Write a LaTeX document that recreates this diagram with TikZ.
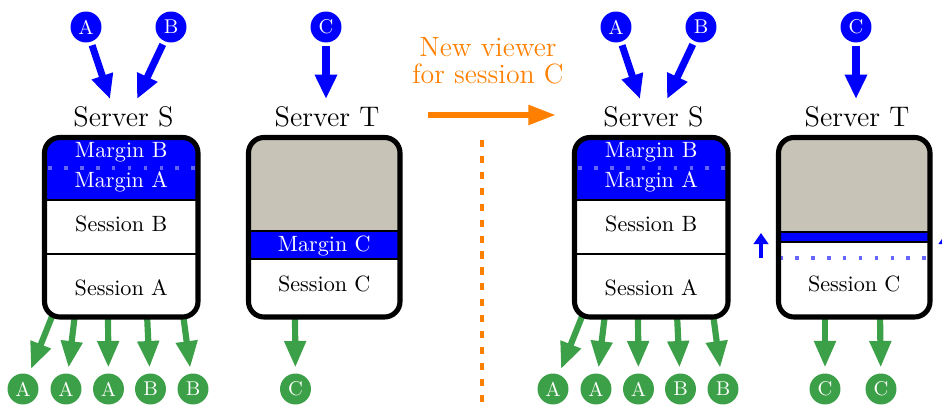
\documentclass[tikz,border=0pt]{standalone}
\usetikzlibrary{arrows.meta,calc}
\definecolor{panelgray}{RGB}{199,195,183}
\definecolor{viewgreen}{RGB}{60,160,72}
\definecolor{noteorange}{RGB}{255,128,0}
\tikzset{
  srvbox/.style={line width=2.3pt, rounded corners=7pt},
  sepline/.style={line width=0.9pt},
  dotline/.style={draw=blue!60, line width=1.7pt, dash pattern=on 1.7pt off 5.5pt},
  cin/.style={circle, fill=blue, text=white, minimum size=14pt, inner sep=0pt, font=\small},
  cout/.style={circle, fill=viewgreen, text=white, minimum size=14pt, inner sep=0pt, font=\small},
  inarrow/.style={draw=blue, line width=3.2pt, -{Triangle[length=11pt,width=9.5pt]}, shorten <=1.5pt},
  outarrow/.style={draw=viewgreen, line width=2.8pt, -{Triangle[length=12pt,width=9.3pt]}, shorten >=2.5pt},
  uparrow/.style={draw=blue, line width=2pt, -{Triangle[length=5pt,width=6.5pt]}},
  srvlabel/.style={anchor=base, font=\fontsize{12.8pt}{15pt}\selectfont},
  intext/.style={anchor=base, font=\normalsize},
  margintext/.style={anchor=base, font=\normalsize, text=white},
}
\newcommand{\drawServerS}[2]{%
  \begin{scope}[shift={(#2,0)}]
    \node[cin] (#1inA) at (86,27) {A};
    \node[cin] (#1inB) at (171,27) {B};
    \coordinate (#1tA) at (110,99);
    \coordinate (#1tB) at (137,99);
    \draw[inarrow] (#1inA) -- (#1tA);
    \draw[inarrow] (#1inB) -- (#1tB);
    \node[srvlabel] (#1lab) at (123.5,127) {Server S};
    \coordinate (#1s1) at (53,314);
    \coordinate (#1s2) at (75,314);
    \coordinate (#1s3) at (108,314);
    \coordinate (#1s4) at (147,314);
    \coordinate (#1s5) at (183,314);
    \node[cout] (#1o1) at (23,389) {A};
    \node[cout] (#1o2) at (66,389) {A};
    \node[cout] (#1o3) at (108.5,389) {A};
    \node[cout] (#1o4) at (150.5,389) {B};
    \node[cout] (#1o5) at (193,389) {B};
    \foreach \k in {1,...,5} {\draw[outarrow] (#1s\k) -- (#1o\k);}
    \begin{scope}
      \clip[rounded corners=7pt] (44.5,137.5) rectangle (198,317);
      \fill[blue] (44.5,137.5) rectangle (198,200);
      \fill[white] (44.5,200) rectangle (198,317);
    \end{scope}
    \draw[sepline] (44.5,200) -- (198,200);
    \draw[sepline] (44.5,254) -- (198,254);
    \draw[dotline] (48,168) -- (197,168);
    \draw[srvbox] (44.5,137.5) rectangle (198,317);
    \node[margintext] (#1mB) at (121.25,158) {Margin B};
    \node[margintext] (#1mA) at (121.25,188) {Margin A};
    \node[intext] (#1sB) at (121.25,231.7) {Session B};
    \node[intext] (#1sA) at (121.25,295.7) {Session A};
  \end{scope}}
\begin{document}
\begin{tikzpicture}[x=0.452pt,y=-0.452pt]
  \useasboundingbox (0,0) rectangle (942,405);
  \clip (0,0) rectangle (942,405);

  % ---------- left panel ----------
  \drawServerS{L}{0}

  \node[cin] (LinC) at (326,27) {C};
  \coordinate (LtC) at (326,99);
  \draw[inarrow] (LinC) -- (LtC);
  \node[srvlabel] (LlabT) at (327,127) {Server T};
  \coordinate (LsC) at (295,314);
  \node[cout] (LoC) at (295.5,389) {C};
  \draw[outarrow] (LsC) -- (LoC);
  \begin{scope}
    \clip[rounded corners=7pt] (248.5,137.5) rectangle (400,317);
    \fill[panelgray] (248.5,137.5) rectangle (400,231);
    \fill[blue] (248.5,231) rectangle (400,259);
    \fill[white] (248.5,259) rectangle (400,317);
  \end{scope}
  \draw[sepline] (248.5,231) -- (400,231);
  \draw[sepline] (248.5,259) -- (400,259);
  \draw[srvbox] (248.5,137.5) rectangle (400,317);
  \node[margintext] (LmC) at (324.25,251.7) {Margin C};
  \node[intext] (LsesC) at (324.25,291.7) {Session C};

  % ---------- transition ----------
  \node[align=center, text=noteorange, font=\fontsize{12.6pt}{12.2pt}\selectfont] (note) at (488,61) {New viewer\\for session C};
  \coordinate (oa) at (428,115);
  \coordinate (ob) at (556,115);
  \draw[draw=noteorange, line width=2.7pt, -{Triangle[length=12.5pt,width=8.5pt]}] (oa) -- (ob);
  \coordinate (dl0) at (482,140);
  \coordinate (dl1) at (482,405);
  \draw[draw=noteorange, line width=1.4pt, dash pattern=on 3.2pt off 4pt] (dl0) -- (dl1);

  % ---------- right panel ----------
  \drawServerS{R}{530}

  \node[cin] (RinC) at (856,27) {C};
  \coordinate (RtC) at (856,99);
  \draw[inarrow] (RinC) -- (RtC);
  \node[srvlabel] (RlabT) at (857,127) {Server T};
  \coordinate (RsC1) at (825,314);
  \coordinate (RsC2) at (880,314);
  \node[cout] (RoC1) at (825,389) {C};
  \node[cout] (RoC2) at (881,389) {C};
  \draw[outarrow] (RsC1) -- (RoC1);
  \draw[outarrow] (RsC2) -- (RoC2);
  \begin{scope}
    \clip[rounded corners=7pt] (778.5,137.5) rectangle (930,317);
    \fill[panelgray] (778.5,137.5) rectangle (930,232);
    \fill[blue] (778.5,232) rectangle (930,242);
    \fill[white] (778.5,242) rectangle (930,317);
  \end{scope}
  \draw[sepline] (778.5,232) -- (930,232);
  \draw[sepline] (778.5,242) -- (930,242);
  \draw[dotline] (779,258) -- (926,258);
  \draw[srvbox] (778.5,137.5) rectangle (930,317);
  \node[intext] (RsesC) at (854.25,291.7) {Session C};
  \coordinate (upL0) at (761,258);
  \coordinate (upL1) at (761,233);
  \coordinate (upR0) at (946,258);
  \coordinate (upR1) at (946,233);
  \draw[uparrow] (upL0) -- (upL1);
  \draw[uparrow] (upR0) -- (upR1);
\end{tikzpicture}
\end{document}
